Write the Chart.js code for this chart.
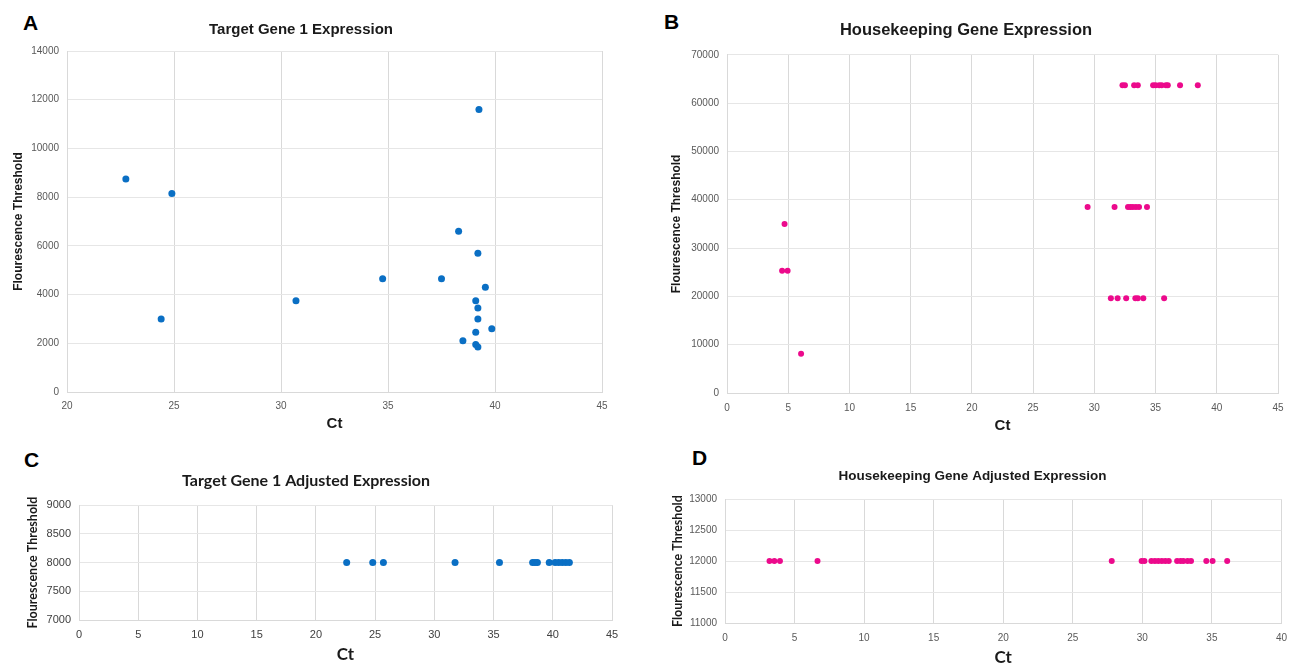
<!DOCTYPE html>
<html>
<head>
<meta charset="utf-8">
<title>Gene expression scatter panels</title>
<script src="https://cdn.jsdelivr.net/npm/chart.js@4.4.1/dist/chart.umd.min.js"></script>
<style>
  body { margin: 0; background: #fff; width: 1296px; height: 665px; position: relative; overflow: hidden; }
  canvas { position: absolute; }
  .tag { position: absolute; font: bold 21px 'Liberation Sans', Arial, sans-serif; line-height: 1; color: #000; }
</style>
</head>
<body>
<div class="tag" style="left:23px;top:12px">A</div>
<div class="tag" style="left:664px;top:11px">B</div>
<div class="tag" style="left:24px;top:449px">C</div>
<div class="tag" style="left:692px;top:447px">D</div>

<canvas id="chartA" width="640" height="440" style="left:0;top:0"></canvas>
<canvas id="chartB" width="642" height="440" style="left:654px;top:0"></canvas>
<canvas id="chartC" width="654" height="225" style="left:0;top:440px"></canvas>
<canvas id="chartD" width="636" height="225" style="left:660px;top:440px"></canvas>

<script>
// ── Data ─────────────────────────────────────────────────────
// A: Target Gene 1 Expression
const targetCt    = [22.75, 24.9, 24.4, 30.7, 34.75, 37.5, 38.3, 39.25, 39.2, 39.55, 39.1, 39.2, 39.2, 39.85, 39.1, 38.5, 39.1, 39.2];
const targetFluor = [8750, 8150, 3000, 3750, 4650, 4650, 6600, 11600, 5700, 4300, 3750, 3450, 3000, 2600, 2450, 2100, 1950, 1850];
const targetXTicks = [20, 25, 30, 35, 40, 45];
const targetYTicks = [0, 2000, 4000, 6000, 8000, 10000, 12000, 14000];

// B: Housekeeping Gene Expression
const hkCt    = [4.7, 4.5, 4.95, 6.05,
                 32.3, 32.5, 33.25, 33.55, 34.8, 35.0, 35.3, 35.5, 35.85, 36.0, 37.0, 38.45,
                 29.45, 31.65, 32.75, 32.95, 33.15, 33.4, 33.65, 34.3,
                 31.35, 31.9, 32.6, 33.35, 33.55, 34.0, 35.7];
const hkFluor = [35000, 25300, 25300, 8100,
                 63700, 63700, 63700, 63700, 63700, 63700, 63700, 63700, 63700, 63700, 63700, 63700,
                 38500, 38500, 38500, 38500, 38500, 38500, 38500, 38500,
                 19600, 19600, 19600, 19600, 19600, 19600, 19600];
const hkXTicks = [0, 5, 10, 15, 20, 25, 30, 35, 40, 45];
const hkYTicks = [0, 10000, 20000, 30000, 40000, 50000, 60000, 70000];

// C: Target Gene 1 Adjusted Expression
const targetAdjCt    = [22.6, 24.8, 25.7, 31.75, 35.5, 38.3, 38.5, 38.7, 39.7, 40.2, 40.5, 40.8, 41.1, 41.4];
const targetAdjFluor = [8000, 8000, 8000, 8000, 8000, 8000, 8000, 8000, 8000, 8000, 8000, 8000, 8000, 8000];
const targetAdjXTicks = [0, 5, 10, 15, 20, 25, 30, 35, 40, 45];
const targetAdjYTicks = [7000, 7500, 8000, 8500, 9000];

// D: Housekeeping Gene Adjusted Expression
const hkAdjCt    = [3.2, 3.55, 3.95, 6.65, 27.8, 29.95, 30.15, 30.65, 30.9, 31.15, 31.4, 31.65, 31.9,
                    32.5, 32.75, 32.95, 33.25, 33.5, 34.6, 35.05, 36.1];
const hkAdjFluor = [12000, 12000, 12000, 12000, 12000, 12000, 12000, 12000, 12000, 12000, 12000, 12000, 12000,
                    12000, 12000, 12000, 12000, 12000, 12000, 12000, 12000];
const hkAdjXTicks = [0, 5, 10, 15, 20, 25, 30, 35, 40];
const hkAdjYTicks = [11000, 11500, 12000, 12500, 13000];

// ── Shared styling ──────────────────────────────────────────
const BLUE    = '#0a6fc4';
const MAGENTA = '#ec0a8c';
const ARIAL   = "'Liberation Sans', Arial, sans-serif";
const CALIBRI = "Lato, 'Open Sans', sans-serif";

function fixedTicks(list) {
    return scale => { scale.ticks = list.map(v => ({ value: v })); };
}

function scatterPanel(id, cfg) {
    const points = cfg.xs.map((x, i) => ({ x, y: cfg.ys[i] }));
    return new Chart(document.getElementById(id), {
        type: 'scatter',
        data: {
            datasets: [{
                data: points,
                backgroundColor: cfg.color,
                borderColor: cfg.color,
                borderWidth: 0,
                pointRadius: cfg.radius
            }]
        },
        options: {
            responsive: false,
            animation: false,
            devicePixelRatio: 1,
            layout: { padding: { left: 0, right: cfg.padRight, top: 0, bottom: 0 } },
            plugins: {
                legend: { display: false },
                tooltip: { enabled: false },
                title: {
                    display: true,
                    text: cfg.title,
                    color: '#1a1a1a',
                    font: cfg.titleFont,
                    padding: cfg.titlePad
                }
            },
            scales: {
                x: {
                    type: 'linear',
                    min: cfg.xTicks[0],
                    max: cfg.xTicks[cfg.xTicks.length - 1],
                    afterBuildTicks: fixedTicks(cfg.xTicks),
                    afterFit: s => { s.height = cfg.xAxisH; },
                    grid: { color: '#d9d9d9', drawTicks: false },
                    border: { color: '#d9d9d9' },
                    ticks: { color: cfg.tickColor, font: cfg.tickFont, padding: cfg.xTickPad, maxRotation: 0 },
                    title: { display: true, text: 'Ct', color: '#1a1a1a', font: cfg.xTitleFont, padding: { bottom: cfg.xTitlePad } }
                },
                y: {
                    type: 'linear',
                    min: cfg.yTicks[0],
                    max: cfg.yTicks[cfg.yTicks.length - 1],
                    afterBuildTicks: fixedTicks(cfg.yTicks),
                    afterFit: s => { s.width = cfg.yAxisW; },
                    grid: { color: '#e6e6e6', drawTicks: false },
                    border: { color: '#d9d9d9' },
                    ticks: { color: cfg.tickColor, font: cfg.tickFont, padding: 8, callback: v => String(v) },
                    title: { display: true, text: 'Flourescence Threshold', color: '#1a1a1a', font: cfg.yTitleFont, padding: { top: cfg.yTitlePad } }
                }
            }
        }
    });
}

// ── Build the four panels ───────────────────────────────────
scatterPanel('chartA', {
    xs: targetCt, ys: targetFluor, xTicks: targetXTicks, yTicks: targetYTicks,
    color: BLUE, radius: 3.5,
    title: 'Target Gene 1 Expression',
    titleFont: { family: ARIAL, size: 15, weight: 'bold' }, titlePad: { top: 21, bottom: 12 },
    padRight: 38, yAxisW: 67, xAxisH: 48,
    tickColor: '#595959', tickFont: { family: ARIAL, size: 10 }, xTickPad: 8,
    xTitleFont: { family: ARIAL, size: 15, weight: 'bold' }, xTitlePad: 7,
    yTitleFont: { family: ARIAL, size: 12, weight: 'bold' }, yTitlePad: 11
});

scatterPanel('chartB', {
    xs: hkCt, ys: hkFluor, xTicks: hkXTicks, yTicks: hkYTicks,
    color: MAGENTA, radius: 3,
    title: 'Housekeeping Gene Expression',
    titleFont: { family: ARIAL, size: 16.5, weight: 'bold' }, titlePad: { top: 21, bottom: 14 },
    padRight: 18, yAxisW: 73, xAxisH: 47,
    tickColor: '#595959', tickFont: { family: ARIAL, size: 10 }, xTickPad: 9,
    xTitleFont: { family: ARIAL, size: 15, weight: 'bold' }, xTitlePad: 5,
    yTitleFont: { family: ARIAL, size: 12, weight: 'bold' }, yTitlePad: 15
});

scatterPanel('chartC', {
    xs: targetAdjCt, ys: targetAdjFluor, xTicks: targetAdjXTicks, yTicks: targetAdjYTicks,
    color: BLUE, radius: 3.5,
    title: 'Target Gene 1 Adjusted Expression',
    titleFont: { family: CALIBRI, size: 16, weight: 'bold' }, titlePad: { top: 31, bottom: 15 },
    padRight: 42, yAxisW: 79, xAxisH: 45,
    tickColor: '#404040', tickFont: { family: ARIAL, size: 11 }, xTickPad: 8,
    xTitleFont: { family: CALIBRI, size: 17, weight: 'bold' }, xTitlePad: 0,
    yTitleFont: { family: CALIBRI, size: 12.5, weight: 'bold' }, yTitlePad: 25
});

scatterPanel('chartD', {
    xs: hkAdjCt, ys: hkAdjFluor, xTicks: hkAdjXTicks, yTicks: hkAdjYTicks,
    color: MAGENTA, radius: 3,
    title: 'Housekeeping Gene Adjusted Expression',
    titleFont: { family: ARIAL, size: 13.5, weight: 'bold' }, titlePad: { top: 28, bottom: 15 },
    padRight: 11, yAxisW: 65, xAxisH: 42,
    tickColor: '#595959', tickFont: { family: ARIAL, size: 10 }, xTickPad: 9,
    xTitleFont: { family: CALIBRI, size: 17, weight: 'bold' }, xTitlePad: -3,
    yTitleFont: { family: CALIBRI, size: 12.5, weight: 'bold' }, yTitlePad: 10
});
</script>
</body>
</html>
